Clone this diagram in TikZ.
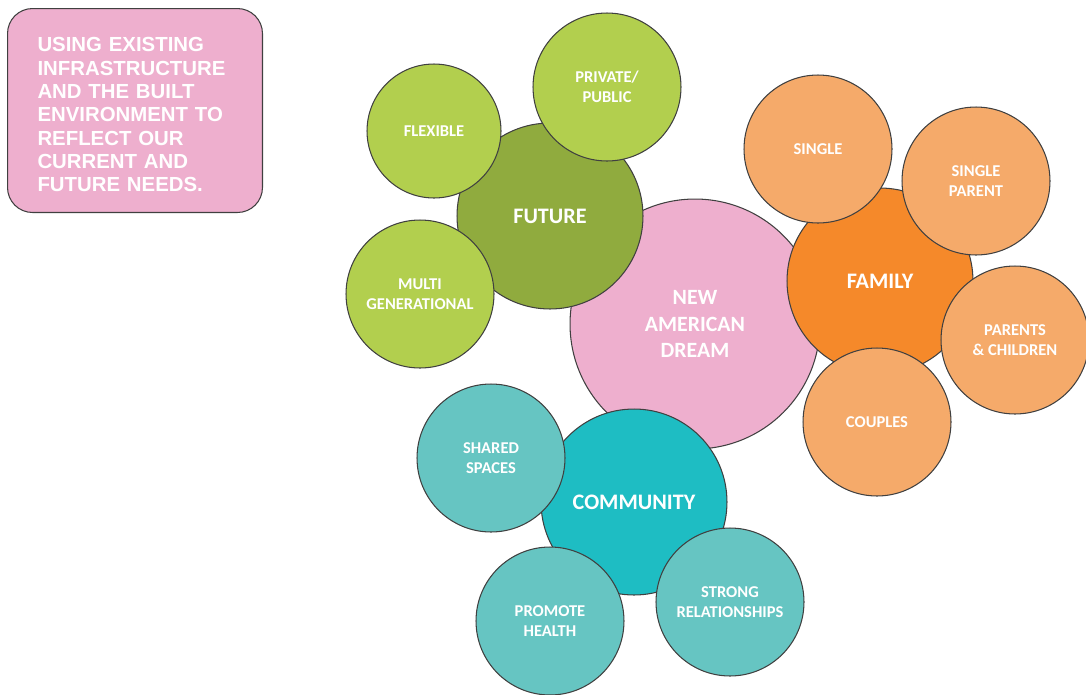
\documentclass[tikz,border=0pt]{standalone}
\usepackage{fontspec}
\setmainfont{Carlito}
\newfontfamily\notefont{Liberation Sans}
\usetikzlibrary{positioning,shapes}
\definecolor{dreampink}{RGB}{238,175,206}
\definecolor{futuregreen}{RGB}{144,171,62}
\definecolor{leafgreen}{RGB}{178,207,78}
\definecolor{familyorange}{RGB}{245,137,42}
\definecolor{leaforange}{RGB}{245,170,106}
\definecolor{communityteal}{RGB}{30,189,195}
\definecolor{leafteal}{RGB}{102,197,194}
\definecolor{rimgray}{RGB}{64,64,64}

\begin{document}
\begin{tikzpicture}[x=0.02cm,y=-0.02cm,
  bubble/.style={draw=rimgray,line width=0.6pt,circle,inner sep=0pt,align=center,text=white},
  hub/.style={bubble,minimum size=3.72cm,font=\bfseries\fontsize{12.6}{15}\selectfont},
  leaf/.style={bubble,minimum size=2.96cm,font=\bfseries\fontsize{9.4}{11.4}\selectfont},
  note/.style={draw=rimgray,line width=0.6pt,fill=dreampink,rounded corners=0.5cm,
    anchor=north west,minimum width=5.1cm,minimum height=4.08cm,
    text width=3.9cm,inner xsep=0.6cm,align=left,text=white,text height=13pt,
    font=\notefont\bfseries\fontsize{11.6}{13.3}\selectfont}]
\useasboundingbox (0,0) rectangle (1086,694);
\node[note] (note) at (7,8) {USING EXISTING\\ INFRASTRUCTURE\\ AND THE BUILT\\ ENVIRONMENT TO\\ REFLECT OUR\\ CURRENT AND\\ FUTURE NEEDS.};

\node[bubble,fill=dreampink,minimum size=5cm,font=\bfseries\fontsize{12.4}{15.2}\selectfont] (dream) at (695,324) {NEW\\ AMERICAN\\ DREAM};

% hubs
\node[hub,fill=futuregreen] (future) at (550,216) {FUTURE};
\node[hub,fill=familyorange] (family) at (880,281) {FAMILY};
\node[hub,fill=communityteal] (community) at (634,502) {COMMUNITY};

% future
\node[leaf,fill=leafgreen,minimum size=2.68cm] (flexible) at (434,131) {FLEXIBLE};
\node[leaf,fill=leafgreen] (privpub) at (607,87) {PRIVATE/\\ PUBLIC};
\node[leaf,fill=leafgreen] (multigen) at (420,294) {MULTI\\ GENERATIONAL};

% family
\node[leaf,fill=leaforange] (single) at (818,149) {SINGLE};
\node[leaf,fill=leaforange] (singlepar) at (976,181) {SINGLE\\ PARENT};
\node[leaf,fill=leaforange] (parchild) at (1015,340) {PARENTS\\ \& CHILDREN};
\node[leaf,fill=leaforange] (couples) at (877,422) {COUPLES};

% community
\node[leaf,fill=leafteal] (shared) at (491,458) {SHARED\\ SPACES};
\node[leaf,fill=leafteal] (promote) at (550,621) {PROMOTE\\ HEALTH};
\node[leaf,fill=leafteal] (strong) at (730,602) {STRONG\\ RELATIONSHIPS};
\end{tikzpicture}
\end{document}
